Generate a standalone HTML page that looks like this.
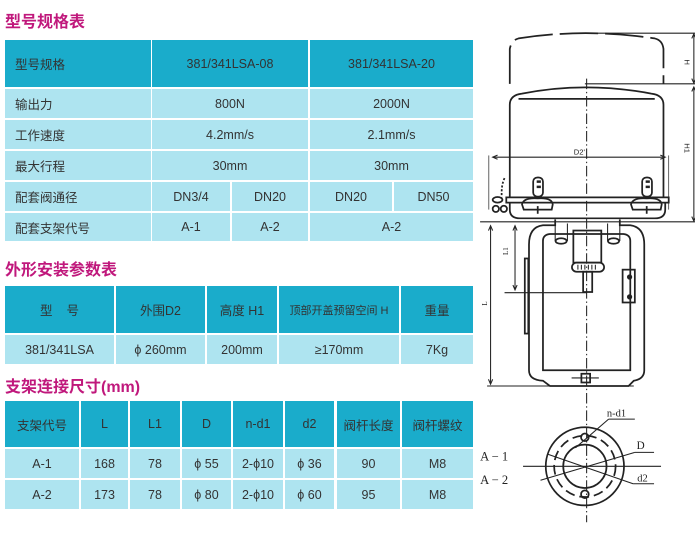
<!DOCTYPE html>
<html><head><meta charset="utf-8"><style>
body{margin:0;width:695px;height:547px;background:#fff;position:relative;overflow:hidden;font-family:"Liberation Sans","Noto Sans CJK SC",sans-serif;}
.t{position:absolute;color:#c0187c;font-size:16px;font-weight:bold;left:5px;}
.c{position:absolute;display:flex;align-items:center;justify-content:center;font-size:12.5px;color:#333;}
.h{background:#1aaccb;}
.d{background:#aee4f0;}
.l{justify-content:flex-start;padding-left:10px;box-sizing:border-box;}
</style></head><body>
<div class="t" style="top:8px">型号规格表</div>
<div class="t" style="top:256px">外形安装参数表</div>
<div class="t" style="top:373px">支架连接尺寸(mm)</div>

<div class="c h l" style="left:5px;top:40px;width:146px;height:47px;">型号规格</div>
<div class="c h" style="left:152px;top:40px;width:156px;height:47px;">381/341LSA-08</div>
<div class="c h" style="left:310px;top:40px;width:163px;height:47px;">381/341LSA-20</div>

<div class="c d l" style="left:5px;top:89px;width:146px;height:29px;">输出力</div>
<div class="c d" style="left:152px;top:89px;width:156px;height:29px;">800N</div>
<div class="c d" style="left:310px;top:89px;width:163px;height:29px;">2000N</div>

<div class="c d l" style="left:5px;top:120px;width:146px;height:29px;">工作速度</div>
<div class="c d" style="left:152px;top:120px;width:156px;height:29px;">4.2mm/s</div>
<div class="c d" style="left:310px;top:120px;width:163px;height:29px;">2.1mm/s</div>

<div class="c d l" style="left:5px;top:151px;width:146px;height:29px;">最大行程</div>
<div class="c d" style="left:152px;top:151px;width:156px;height:29px;">30mm</div>
<div class="c d" style="left:310px;top:151px;width:163px;height:29px;">30mm</div>

<div class="c d l" style="left:5px;top:182px;width:146px;height:29px;">配套阀通径</div>
<div class="c d" style="left:152px;top:182px;width:78px;height:29px;">DN3/4</div>
<div class="c d" style="left:232px;top:182px;width:76px;height:29px;">DN20</div>
<div class="c d" style="left:310px;top:182px;width:82px;height:29px;">DN20</div>
<div class="c d" style="left:394px;top:182px;width:79px;height:29px;">DN50</div>

<div class="c d l" style="left:5px;top:213px;width:146px;height:28px;">配套支架代号</div>
<div class="c d" style="left:152px;top:213px;width:78px;height:28px;">A-1</div>
<div class="c d" style="left:232px;top:213px;width:76px;height:28px;">A-2</div>
<div class="c d" style="left:310px;top:213px;width:163px;height:28px;">A-2</div>

<div class="c h" style="left:5px;top:286px;width:109px;height:47px;">型&nbsp;&nbsp;&nbsp;&nbsp;号</div>
<div class="c h" style="left:116px;top:286px;width:89px;height:47px;">外围D2</div>
<div class="c h" style="left:207px;top:286px;width:70px;height:47px;">高度 H1</div>
<div class="c h" style="left:279px;top:286px;width:120px;height:47px;font-size:11px;">顶部开盖预留空间 H</div>
<div class="c h" style="left:401px;top:286px;width:72px;height:47px;">重量</div>
<div class="c d" style="left:5px;top:335px;width:109px;height:29px;">381/341LSA</div>
<div class="c d" style="left:116px;top:335px;width:89px;height:29px;">ϕ 260mm</div>
<div class="c d" style="left:207px;top:335px;width:70px;height:29px;">200mm</div>
<div class="c d" style="left:279px;top:335px;width:120px;height:29px;">≥170mm</div>
<div class="c d" style="left:401px;top:335px;width:72px;height:29px;">7Kg</div>

<div class="c h" style="left:5px;top:401px;width:74px;height:46px;">支架代号</div>
<div class="c h" style="left:81px;top:401px;width:47px;height:46px;">L</div>
<div class="c h" style="left:130px;top:401px;width:50px;height:46px;">L1</div>
<div class="c h" style="left:182px;top:401px;width:49px;height:46px;">D</div>
<div class="c h" style="left:233px;top:401px;width:50px;height:46px;">n-d1</div>
<div class="c h" style="left:285px;top:401px;width:49px;height:46px;">d2</div>
<div class="c h" style="left:337px;top:401px;width:63px;height:46px;">阀杆长度</div>
<div class="c h" style="left:402px;top:401px;width:71px;height:46px;">阀杆螺纹</div>

<div class="c d" style="left:5px;top:449px;width:74px;height:29px;">A-1</div>
<div class="c d" style="left:81px;top:449px;width:47px;height:29px;">168</div>
<div class="c d" style="left:130px;top:449px;width:50px;height:29px;">78</div>
<div class="c d" style="left:182px;top:449px;width:49px;height:29px;">ϕ 55</div>
<div class="c d" style="left:233px;top:449px;width:50px;height:29px;">2-ϕ10</div>
<div class="c d" style="left:285px;top:449px;width:49px;height:29px;">ϕ 36</div>
<div class="c d" style="left:337px;top:449px;width:63px;height:29px;">90</div>
<div class="c d" style="left:402px;top:449px;width:71px;height:29px;">M8</div>

<div class="c d" style="left:5px;top:480px;width:74px;height:29px;">A-2</div>
<div class="c d" style="left:81px;top:480px;width:47px;height:29px;">173</div>
<div class="c d" style="left:130px;top:480px;width:50px;height:29px;">78</div>
<div class="c d" style="left:182px;top:480px;width:49px;height:29px;">ϕ 80</div>
<div class="c d" style="left:233px;top:480px;width:50px;height:29px;">2-ϕ10</div>
<div class="c d" style="left:285px;top:480px;width:49px;height:29px;">ϕ 60</div>
<div class="c d" style="left:337px;top:480px;width:63px;height:29px;">95</div>
<div class="c d" style="left:402px;top:480px;width:71px;height:29px;">M8</div>

<svg style="position:absolute;left:480px;top:0" width="215" height="547" viewBox="0 0 615 1566" fill="none" stroke="#222" stroke-width="5">
<path d="M85,240 L85,140 Q90,115 110,110 Q300,80 500,110 Q522,115 525,140 L525,240" stroke-dasharray="110,20"/>
<line x1="300" y1="95" x2="625" y2="95" stroke-width="3"/>
<line x1="300" y1="240" x2="625" y2="240" stroke-width="3"/>
<line x1="612" y1="100" x2="612" y2="235" stroke-width="3"/>
<path d="M606,110 L612,97 L618,110 M606,225 L612,238 L618,225" stroke-width="3"/>
<line x1="612" y1="250" x2="612" y2="630" stroke-width="3"/>
<path d="M606,262 L612,249 L618,262 M606,620 L612,633 L618,620" stroke-width="3"/>
<text x="0" y="0" transform="translate(585,170) rotate(90)" font-size="22" fill="#222" stroke="none" font-family="Liberation Sans">H</text>
<text x="0" y="0" transform="translate(585,410) rotate(90)" font-size="22" fill="#222" stroke="none" font-family="Liberation Sans">H1</text>
<path d="M85,565 L85,300 Q85,272 120,268 Q300,232 490,268 Q525,272 525,300 L525,565"/>
<line x1="110" y1="283" x2="500" y2="283"/>
<path d="M75,565 L540,565 L540,580 L75,580 Z"/>
<path d="M85,580 L85,600 Q85,625 115,625 L500,625 Q530,625 530,600 L530,580"/>
<line x1="0" y1="635" x2="625" y2="635" stroke-width="3"/>
<line x1="38" y1="450" x2="528" y2="450" stroke-width="3"/>
<path d="M50,444 L36,450 L50,456 M516,444 L530,450 L516,456" stroke-width="3"/>
<text x="268" y="442" font-size="22" fill="#222" stroke="none" font-family="Liberation Sans">D2'</text>
<line x1="25" y1="445" x2="25" y2="600" stroke-width="2"/>
<line x1="540" y1="445" x2="540" y2="600" stroke-width="2"/>
<path d="M70,510 Q60,530 62,565" stroke-dasharray="6,5"/>
<ellipse cx="50" cy="572" rx="14" ry="8"/><circle cx="45" cy="598" r="9"/><circle cx="68" cy="598" r="9"/>
<g id="lt"><rect x="152" y="508" width="28" height="55" rx="12"/><path d="M162,520 h12 M162,535 h12" stroke-width="7"/><path d="M120,585 Q125,565 165,568 Q205,565 208,585 L205,600 L125,600 Z"/><line x1="165" y1="590" x2="165" y2="612"/></g>
<use href="#lt" x="312"/>
<path d="M215,628 L215,645 L180,645 Q140,650 140,700 L140,1060 Q140,1088 180,1090 L200,1105 L425,1105 L440,1090 Q470,1085 470,1060 L470,700 Q470,650 430,645 L400,645 L400,628"/>
<path d="M180,690 Q180,672 200,670 L410,670 Q430,672 430,690 L430,1060 L180,1060 Z"/>
<path d="M215,640 L215,690 M250,640 L250,690 M365,640 L365,690 M400,640 L400,690" stroke-width="3"/>
<ellipse cx="232" cy="690" rx="16" ry="8"/><ellipse cx="382" cy="690" rx="16" ry="8"/>
<rect x="267" y="660" width="80" height="92"/>
<rect x="263" y="752" width="92" height="26" rx="13"/>
<path d="M280,758 v14 M290,758 v14 M300,758 v14 M310,758 v14 M320,758 v14 M330,758 v14" stroke-width="3"/>
<rect x="295" y="778" width="26" height="58"/>
<rect x="408" y="772" width="35" height="94"/>
<circle cx="428" cy="793" r="5" fill="#222"/><circle cx="428" cy="850" r="5" fill="#222"/>
<rect x="128" y="740" width="10" height="215"/>
<rect x="290" y="1070" width="25" height="25"/>
<line x1="262" y1="1082" x2="340" y2="1082" stroke-width="3"/>
<line x1="100" y1="648" x2="100" y2="828" stroke-width="3"/>
<path d="M94,660 L100,646 L106,660 M94,816 L100,830 L106,816" stroke-width="3"/>
<line x1="70" y1="838" x2="305" y2="838" stroke-width="3"/>
<text x="0" y="0" transform="translate(80,730) rotate(-90)" font-size="20" fill="#222" stroke="none" font-family="Liberation Serif">L1</text>
<line x1="30" y1="648" x2="30" y2="1098" stroke-width="3"/>
<path d="M24,660 L30,646 L36,660 M24,1086 L30,1100 L36,1086" stroke-width="3"/>
<line x1="20" y1="1105" x2="440" y2="1105" stroke-width="3"/>
<text x="0" y="0" transform="translate(20,875) rotate(-90)" font-size="20" fill="#222" stroke="none" font-family="Liberation Serif">L</text>
<line x1="305" y1="225" x2="305" y2="1495" stroke-dasharray="30,8,4,8" stroke-width="3"/>
<g transform="translate(-12,0)">
<circle cx="312" cy="1335" r="112"/>
<circle cx="312" cy="1335" r="88" stroke-dasharray="28,14"/>
<circle cx="312" cy="1335" r="62"/>
<circle cx="312" cy="1252" r="11"/><circle cx="312" cy="1415" r="11"/>
<line x1="135" y1="1335" x2="530" y2="1335" stroke-width="3"/>
<line x1="205" y1="1300" x2="450" y2="1385" stroke-width="3"/>
<line x1="450" y1="1385" x2="510" y2="1385" stroke-width="3"/>
<line x1="185" y1="1375" x2="455" y2="1295" stroke-width="3"/>
<line x1="455" y1="1295" x2="510" y2="1295" stroke-width="3"/>
<line x1="285" y1="1282" x2="380" y2="1200" stroke-width="3"/>
<line x1="380" y1="1200" x2="455" y2="1200" stroke-width="3"/>
<g fill="#222" stroke="none" font-family="Liberation Serif">
<text x="375" y="1192" font-size="30">n-d1</text>
<text x="460" y="1285" font-size="32">D</text>
<text x="462" y="1378" font-size="30">d2</text>
</g>
</g>
<g fill="#222" stroke="none" font-family="Liberation Serif">
<text x="0" y="1318" font-size="36">A − 1</text>
<text x="0" y="1385" font-size="36">A − 2</text>
</g>
</svg>
</body></html>
